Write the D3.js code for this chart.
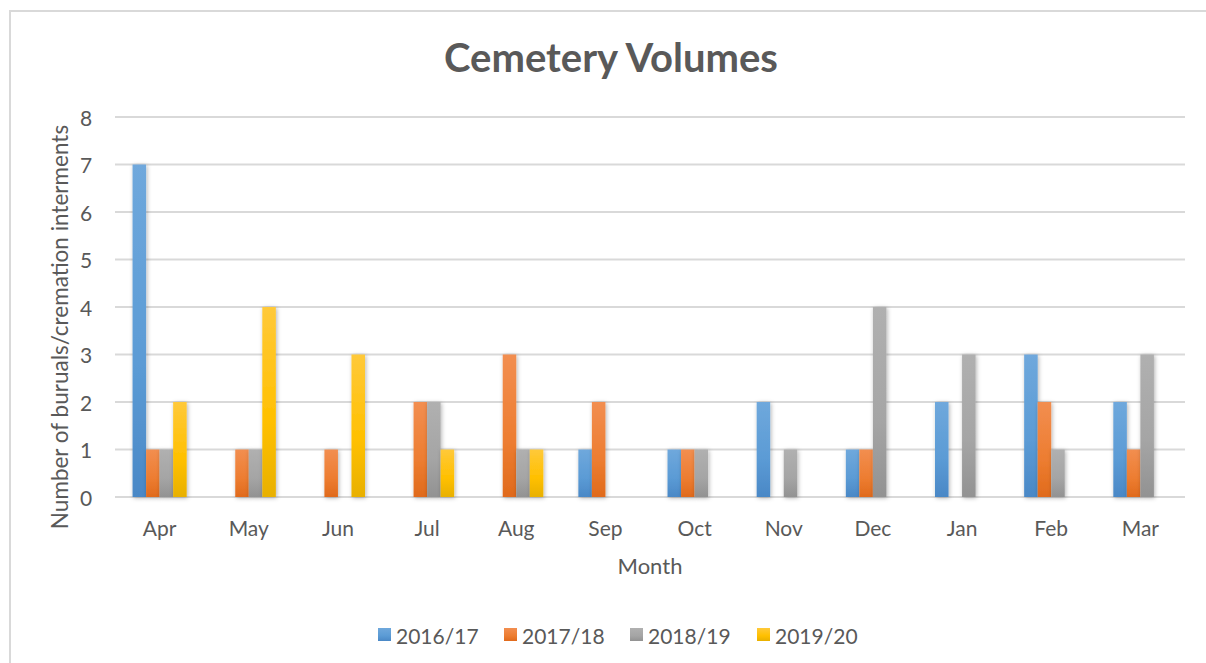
<!DOCTYPE html>
<html>
<head>
<meta charset="utf-8">
<script src="https://cdn.jsdelivr.net/npm/d3@7"></script>
<style>
  body { margin: 0; background: #fff; }
  svg text { font-family: Lato, "Open Sans", sans-serif; fill: #595959; }
</style>
</head>
<body>
<div id="chart"></div>
<script>
var months = ['Apr','May','Jun','Jul','Aug','Sep','Oct','Nov','Dec','Jan','Feb','Mar'];
var seriesNames = ['2016/17','2017/18','2018/19','2019/20'];
var colors = ['#5b9bd5','#ed7d31','#a5a5a5','#ffc000'];
var darks = ['#4a88c6','#e06a1c','#929292','#e8b000'];
var lights = ['#6fa8dc','#f28e50','#b0b0b0','#ffc93a'];
var v1617 = [7,0,0,0,0,1,1,2,1,2,3,2];
var v1718 = [1,1,1,2,3,2,1,0,1,0,2,1];
var v1819 = [1,1,0,2,1,0,1,1,4,3,1,3];
var v1920 = [2,4,3,1,1,0,0,0,0,0,0,0];
var series = [v1617, v1718, v1819, v1920];
var yTicks = [0,1,2,3,4,5,6,7,8];

var width = 1206, height = 663;
var plotLeft = 115, plotRight = 1185, plotTop = 117, plotBottom = 497;

var svg = d3.select('#chart').append('svg')
    .attr('width', width)
    .attr('height', height);

var defs = svg.append('defs');
colors.forEach(function(c, i) {
    var g = defs.append('linearGradient')
        .attr('id', 'grad' + i)
        .attr('x1', 0).attr('y1', 0).attr('x2', 0).attr('y2', 1);
    g.append('stop').attr('offset', '0%').attr('stop-color', lights[i]);
    g.append('stop').attr('offset', '60%').attr('stop-color', colors[i]);
    g.append('stop').attr('offset', '100%').attr('stop-color', darks[i]);
});
var shadow = defs.append('filter').attr('id', 'shadow')
    .attr('x', '-50%').attr('y', '-10%').attr('width', '200%').attr('height', '120%');
shadow.append('feDropShadow')
    .attr('dx', 1).attr('dy', 1).attr('stdDeviation', 2)
    .attr('flood-color', '#000').attr('flood-opacity', 0.3);

// outer frame
svg.append('rect')
    .attr('x', 10).attr('y', 11)
    .attr('width', 1210).attr('height', 700)
    .attr('fill', 'none')
    .attr('stroke', '#d9d9d9')
    .attr('stroke-width', 2);

var x = d3.scaleBand().domain(months).range([plotLeft, plotRight])
    .paddingInner(0.393).paddingOuter(0.197);
var xs = d3.scaleBand().domain(d3.range(series.length)).range([0, x.bandwidth()]);
var y = d3.scaleLinear().domain([0, 8]).range([plotBottom, plotTop]);

// gridlines
svg.append('g').selectAll('line')
    .data(yTicks)
    .enter().append('line')
    .attr('x1', plotLeft).attr('x2', plotRight)
    .attr('y1', function(d) { return y(d); })
    .attr('y2', function(d) { return y(d); })
    .attr('stroke', '#d9d9d9')
    .attr('stroke-width', 2);

// y tick labels
svg.append('g').selectAll('text')
    .data(yTicks)
    .enter().append('text')
    .attr('x', 86)
    .attr('y', function(d) { return y(d); })
    .attr('text-anchor', 'middle')
    .attr('dominant-baseline', 'central')
    .attr('font-size', 21)
    .text(function(d) { return d; });

// bars
var groups = svg.append('g').selectAll('g')
    .data(series)
    .enter().append('g')
    .attr('fill', function(d, i) { return 'url(#grad' + i + ')'; })
    .attr('filter', 'url(#shadow)');

groups.each(function(vals, si) {
    d3.select(this).selectAll('rect')
        .data(vals.map(function(v, mi) { return {m: months[mi], v: v}; })
              .filter(function(d) { return d.v > 0; }))
        .enter().append('rect')
        .attr('x', function(d) { return x(d.m) + xs(si); })
        .attr('width', xs.bandwidth())
        .attr('y', function(d) { return y(d.v); })
        .attr('height', function(d) { return y(0) - y(d.v); });
});

// x labels
svg.append('g').selectAll('text')
    .data(months)
    .enter().append('text')
    .attr('x', function(d) { return x(d) + x.bandwidth() / 2; })
    .attr('y', 536)
    .attr('text-anchor', 'middle')
    .attr('font-size', 21)
    .text(function(d) { return d; });

// titles
svg.append('text')
    .attr('x', 611).attr('y', 72)
    .attr('text-anchor', 'middle')
    .attr('font-size', 40)
    .attr('font-weight', 'bold')
    .text('Cemetery Volumes');

svg.append('text')
    .attr('x', 650).attr('y', 574)
    .attr('text-anchor', 'middle')
    .attr('font-size', 22)
    .text('Month');

svg.append('text')
    .attr('transform', 'translate(68,327) rotate(-90)')
    .attr('text-anchor', 'middle')
    .attr('font-size', 22.5)
    .text('Number of buruals/cremation interments');

// legend
var legendX = [378, 504, 630, 757];
var legend = svg.append('g').selectAll('g')
    .data(seriesNames)
    .enter().append('g')
    .attr('transform', function(d, i) { return 'translate(' + legendX[i] + ',635)'; });
legend.append('rect')
    .attr('x', 0).attr('y', -7)
    .attr('width', 13).attr('height', 13)
    .attr('fill', function(d, i) { return 'url(#grad' + i + ')'; });
legend.append('text')
    .attr('x', 18).attr('y', 0)
    .attr('dominant-baseline', 'central')
    .attr('font-size', 21)
    .text(function(d) { return d; });
</script>
</body>
</html>
